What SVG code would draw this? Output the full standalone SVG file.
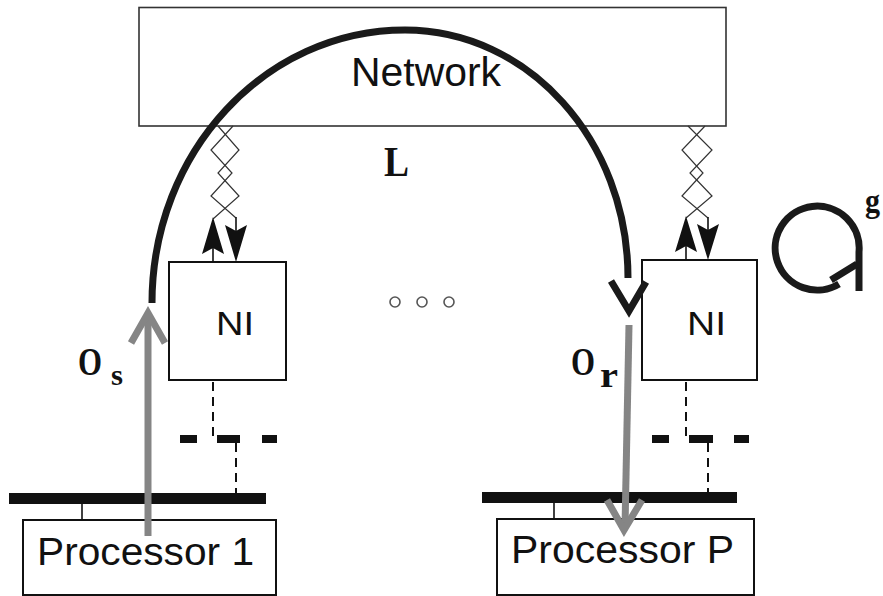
<svg xmlns="http://www.w3.org/2000/svg" width="883" height="596" viewBox="0 0 883 596">
<style>
.box{fill:#fff;stroke:#111;stroke-width:2}
.sans{font-family:"Liberation Sans",Arial,sans-serif;fill:#111}
.serif{font-family:"Liberation Serif","Times New Roman",serif;font-weight:bold;fill:#111}
.zig{fill:none;stroke:#333;stroke-width:1.2}
.thin{stroke:#111;stroke-width:1.6;fill:none}
.dash{stroke:#111;stroke-width:2;stroke-dasharray:9 6;fill:none}
.thick{fill:#111}
.gray{stroke:#858585;stroke-width:7;fill:none}
.big{stroke:#1a1a1a;stroke-width:7;fill:none}
</style>
<rect width="883" height="596" fill="#fff"/>
<g id="network">
<rect x="139" y="7.5" width="587" height="118.5" fill="#fff" stroke="#333" stroke-width="1.6"/>
<text class="sans" x="351" y="86" font-size="40" textLength="150" lengthAdjust="spacingAndGlyphs">Network</text>
</g>
<g id="ni-left">
<rect class="box" x="169" y="262" width="117" height="118"/>
<text class="sans" x="216" y="335" font-size="33" textLength="38" lengthAdjust="spacingAndGlyphs">NI</text>
</g>
<g id="ni-right">
<rect class="box" x="642" y="260" width="115" height="120"/>
<text class="sans" x="687" y="335" font-size="33" textLength="39" lengthAdjust="spacingAndGlyphs">NI</text>
</g>
<g id="proc-1">
<rect class="box" x="23" y="520" width="253" height="75"/>
<text class="sans" x="37" y="565" font-size="38" textLength="217" lengthAdjust="spacingAndGlyphs">Processor 1</text>
</g>
<g id="proc-p">
<rect class="box" x="497" y="519" width="257" height="76"/>
<text class="sans" x="511" y="563" font-size="38" textLength="223" lengthAdjust="spacingAndGlyphs">Processor P</text>
</g>
<g id="bus-left">
<rect class="thick" x="9" y="493" width="257" height="11"/>
</g>
<g id="bus-right">
<rect class="thick" x="482" y="492" width="255" height="11"/>
</g>
<g id="dots">
<circle cx="395" cy="302" r="5" fill="none" stroke="#555" stroke-width="1.6"/>
<circle cx="422" cy="302" r="5" fill="none" stroke="#555" stroke-width="1.6"/>
<circle cx="449" cy="302" r="5" fill="none" stroke="#555" stroke-width="1.6"/>
</g>
<g id="connectors">
<polyline class="zig" points="218,126 239,150 218,173 239,196 213,219"/>
<polyline class="zig" points="233,126 211,150 232,173 211,196 236,218"/>
<polyline class="zig" points="688,126 712,150 690,173 712,196 686,218"/>
<polyline class="zig" points="705,126 682,150 703,173 682,196 708,218"/>
<line class="thin" x1="213" y1="262" x2="213" y2="248"/>
<polygon class="thick" points="213,217 224,254 213,248 202,254"/>
<line class="thin" x1="236" y1="217" x2="236" y2="232"/>
<polygon class="thick" points="236,262 247,225 236,231 225,225"/>
<line class="thin" x1="686" y1="260" x2="686" y2="246"/>
<polygon class="thick" points="686,216 697,252 686,246 675,252"/>
<line class="thin" x1="708" y1="217" x2="708" y2="231"/>
<polygon class="thick" points="708,260 719,224 708,230 697,224"/>
<line class="dash" x1="213" y1="382" x2="213" y2="437"/>
<rect class="thick" x="180" y="435" width="17" height="8"/>
<rect class="thick" x="217" y="435" width="23" height="8"/>
<rect class="thick" x="262" y="435" width="15" height="8"/>
<line class="dash" x1="236" y1="443" x2="236" y2="493"/>
<line class="dash" x1="686" y1="382" x2="686" y2="437"/>
<rect class="thick" x="652" y="435" width="17" height="8"/>
<rect class="thick" x="689" y="435" width="24" height="8"/>
<rect class="thick" x="734" y="435" width="15" height="8"/>
<line class="dash" x1="708" y1="443" x2="708" y2="492"/>
<line class="thin" x1="82" y1="504" x2="82" y2="520" stroke-width="2"/>
<line class="thin" x1="554" y1="503" x2="554" y2="519" stroke-width="2"/>
<path class="big" d="M152,303 C152,152 265,30 405,30 C528,30 628,140 628,278"/>
<polyline class="big" points="611,281 629,311 646,282"/>
<line class="gray" x1="148" y1="536" x2="148" y2="313"/>
<polyline class="gray" points="131,343 148,313 165,343"/>
<line class="gray" x1="629" y1="325" x2="625" y2="528"/>
<polyline class="gray" points="607,500 624,530 642,500"/>
<path class="big" d="M839,284 A42,42 0 1 1 859,252 L859,291"/>
<line class="big" x1="831" y1="280" x2="857" y2="264"/>
</g>
<g id="labels">
<text class="serif" x="409" y="176" font-size="42" text-anchor="end" textLength="25" lengthAdjust="spacingAndGlyphs">L</text>
<text class="serif" x="78" y="375" font-size="40" textLength="24" lengthAdjust="spacingAndGlyphs">O</text>
<text class="serif" x="111" y="385" font-size="30" textLength="12" lengthAdjust="spacingAndGlyphs">s</text>
<text class="serif" x="571" y="375" font-size="40" textLength="24" lengthAdjust="spacingAndGlyphs">O</text>
<text class="serif" x="600" y="387" font-size="36" textLength="18" lengthAdjust="spacingAndGlyphs">r</text>
<text class="serif" x="865" y="212" font-size="34" textLength="15" lengthAdjust="spacingAndGlyphs">g</text>
</g>
</svg>
